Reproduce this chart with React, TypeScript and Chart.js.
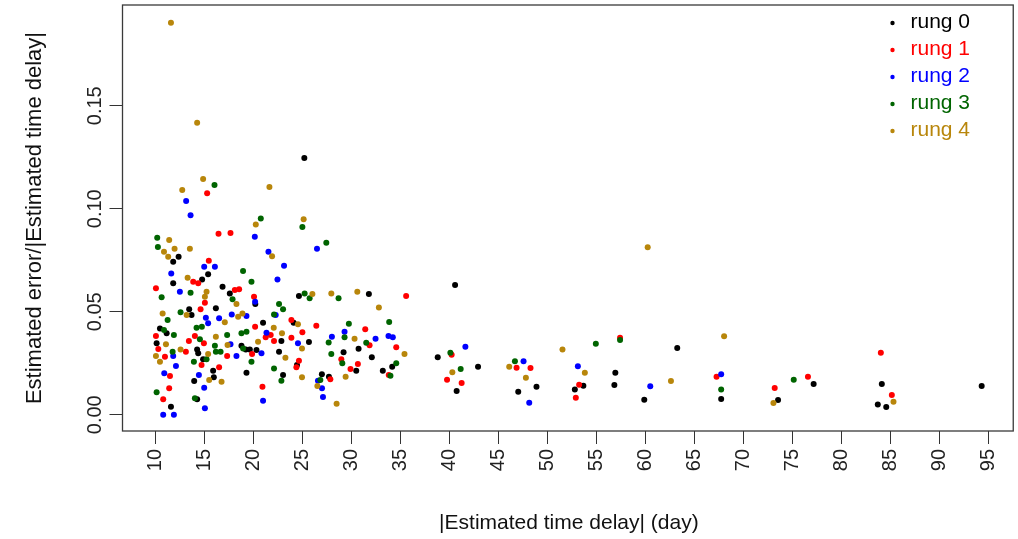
import React, { useEffect, useRef } from "react";
import { Chart, registerables } from "chart.js";

Chart.register(...registerables);

const seriesNames = ["rung 0", "rung 1", "rung 2", "rung 3", "rung 4"];
const seriesColors = ["#000000", "#FF0000", "#0000FF", "#006400", "#B8860B"];

const xTickValues = [10, 15, 20, 25, 30, 35, 40, 45, 50, 55, 60, 65, 70, 75, 80, 85, 90, 95];
const yTickValues = [0, 0.05, 0.1, 0.15];
const yTickLabels = ["0.00", "0.05", "0.10", "0.15"];

const xTitle = "|Estimated time delay| (day)";
const yTitle = "Estimated error/|Estimated time delay|";

// [ |estimated time delay| (day), estimated error / |estimated time delay| ]
const rung0 = [
  [25.2, 0.1246], [12.38, 0.0767], [11.83, 0.0743], [15.39, 0.0682], [14.78, 0.0657], [11.83, 0.0638],
  [16.86, 0.0621], [17.6, 0.0589], [20.2, 0.0537], [24.65, 0.0576], [16.18, 0.0517], [13.46, 0.0512],
  [13.7, 0.0484], [24.11, 0.0447], [20.99, 0.0447], [22.86, 0.0358], [10.48, 0.0419], [11.16, 0.0395],
  [10.14, 0.0347], [14.27, 0.0317], [14.38, 0.0298], [18.79, 0.0335], [19.23, 0.0317], [19.64, 0.0317],
  [20.32, 0.0314], [22.62, 0.0306], [14.88, 0.0269], [15.9, 0.0214], [13.97, 0.0164], [15.97, 0.0182],
  [19.3, 0.0204], [23.03, 0.0193], [14.27, 0.0075], [11.6, 0.0039], [31.78, 0.0586], [25.67, 0.0353],
  [30.73, 0.032], [29.2, 0.0303], [32.08, 0.0279], [24.45, 0.0241], [30.49, 0.0214], [33.2, 0.0214],
  [34.16, 0.0233], [26.99, 0.0196], [27.71, 0.0184], [40.57, 0.063], [38.8, 0.0279], [40.73, 0.0115],
  [42.91, 0.0233], [48.87, 0.0136], [47.01, 0.0112], [63.22, 0.0324], [56.91, 0.0204], [56.81, 0.0144],
  [53.65, 0.0141], [52.78, 0.0123], [59.86, 0.0073], [67.7, 0.0076], [73.5, 0.0071], [77.13, 0.0149],
  [84.08, 0.0149], [83.67, 0.005], [84.53, 0.0037], [94.26, 0.0139],
];

const rung1 = [
  [15.29, 0.1075], [16.45, 0.0879], [17.67, 0.0882], [15.46, 0.0748], [10.07, 0.0614], [13.87, 0.0646],
  [14.38, 0.0638], [18.11, 0.0605], [18.55, 0.0609], [20.07, 0.0573], [15.06, 0.0544], [14.62, 0.0512],
  [23.88, 0.046], [20.18, 0.0427], [21.77, 0.0387], [21.26, 0.0376], [22.11, 0.0358], [23.88, 0.0374],
  [10.07, 0.0382], [10.31, 0.0319], [13.12, 0.0306], [10.99, 0.0282], [14.04, 0.0382], [13.43, 0.0358],
  [14.96, 0.0347], [17.33, 0.0285], [19.87, 0.0295], [24.65, 0.0262], [24.39, 0.023], [14.72, 0.0241],
  [16.51, 0.023], [11.5, 0.0188], [11.42, 0.0128], [20.93, 0.0136], [10.81, 0.0075], [35.58, 0.0576],
  [26.42, 0.0432], [25.0, 0.04], [31.41, 0.0415], [31.85, 0.0337], [34.57, 0.0327], [28.97, 0.0269],
  [30.66, 0.0246], [29.91, 0.0222], [33.81, 0.0193], [27.85, 0.0172], [40.22, 0.0291], [39.75, 0.017],
  [41.24, 0.0154], [46.84, 0.0228], [48.26, 0.0227], [57.39, 0.0374], [53.22, 0.0146], [52.88, 0.0083],
  [67.23, 0.0184], [73.16, 0.013], [76.55, 0.0184], [83.98, 0.0301], [85.1, 0.0096],
];

const rung2 = [
  [13.15, 0.1037], [13.6, 0.0968], [20.15, 0.0864], [14.99, 0.0718], [16.08, 0.0718], [21.54, 0.0791],
  [23.13, 0.0723], [11.63, 0.0686], [22.46, 0.0657], [26.49, 0.0806], [12.51, 0.0597], [20.18, 0.0549],
  [15.16, 0.0471], [15.39, 0.0444], [16.51, 0.0468], [17.8, 0.0487], [19.3, 0.0479], [22.28, 0.0484],
  [21.34, 0.0398], [11.83, 0.0285], [12.11, 0.0236], [17.67, 0.0342], [18.28, 0.0285], [20.83, 0.0298],
  [10.92, 0.0201], [14.45, 0.0193], [14.99, 0.0131], [20.99, 0.0068], [15.06, 0.0031], [10.81, 0.0],
  [11.9, 0.0], [29.3, 0.0403], [28.01, 0.0379], [32.46, 0.0369], [33.78, 0.0382], [34.22, 0.0376],
  [24.55, 0.0347], [26.59, 0.0165], [27.0, 0.0128], [27.1, 0.0086], [41.62, 0.033], [47.55, 0.0259],
  [48.13, 0.0058], [53.09, 0.0235], [60.47, 0.0138], [67.7, 0.0196],
];

const rung3 = [
  [16.04, 0.1115], [20.76, 0.0953], [25.0, 0.0911], [10.2, 0.0859], [10.27, 0.0814], [18.95, 0.0698],
  [27.44, 0.0835], [19.81, 0.0646], [10.65, 0.057], [13.6, 0.0592], [17.88, 0.056], [22.62, 0.0537],
  [23.03, 0.0512], [12.58, 0.0497], [11.26, 0.046], [22.11, 0.0487], [10.89, 0.0411], [11.9, 0.0387],
  [14.21, 0.0422], [14.75, 0.0427], [14.55, 0.0366], [17.33, 0.0387], [16.08, 0.0335], [18.79, 0.0395],
  [19.3, 0.0403], [11.77, 0.0306], [16.18, 0.0306], [16.66, 0.0306], [18.96, 0.0322], [19.81, 0.0257],
  [15.23, 0.0269], [13.94, 0.0257], [22.11, 0.0225], [22.86, 0.0165], [10.14, 0.0109], [14.04, 0.008],
  [25.23, 0.0589], [25.74, 0.0565], [28.69, 0.0565], [29.74, 0.0442], [33.85, 0.045], [29.3, 0.0376],
  [27.68, 0.0351], [31.51, 0.035], [27.95, 0.0295], [29.07, 0.025], [34.57, 0.025], [33.98, 0.0189],
  [26.83, 0.0168], [40.09, 0.0301], [41.14, 0.0222], [46.67, 0.0259], [54.92, 0.0345], [57.39, 0.0363],
  [67.7, 0.0123], [75.1, 0.017],
];

const rung4 = [
  [11.6, 0.1903], [14.27, 0.1417], [14.88, 0.1144], [12.75, 0.1091], [21.64, 0.1105], [20.25, 0.0924],
  [25.13, 0.0949], [11.42, 0.0848], [10.89, 0.0791], [11.97, 0.0806], [13.53, 0.0806], [11.32, 0.0767],
  [21.91, 0.0769], [13.3, 0.0665], [15.23, 0.0597], [15.06, 0.0573], [18.28, 0.0537], [10.75, 0.0492],
  [13.2, 0.0484], [17.09, 0.0449], [18.45, 0.0476], [18.89, 0.0492], [22.08, 0.0422], [22.92, 0.0395],
  [11.09, 0.0342], [12.58, 0.0317], [10.07, 0.0285], [10.48, 0.0257], [16.18, 0.0379], [17.37, 0.0338],
  [15.39, 0.0295], [20.48, 0.0354], [23.27, 0.0277], [15.5, 0.0168], [16.76, 0.016], [26.02, 0.0586],
  [27.95, 0.0589], [30.6, 0.0597], [32.8, 0.0521], [24.55, 0.0439], [30.32, 0.0369], [24.96, 0.0322],
  [35.41, 0.0295], [24.96, 0.0182], [29.41, 0.0184], [26.53, 0.0139], [28.49, 0.0053], [60.21, 0.0813],
  [40.29, 0.0206], [46.09, 0.0233], [47.79, 0.018], [51.52, 0.0317], [53.8, 0.0204], [62.58, 0.0164],
  [68.0, 0.0381], [73.03, 0.0057], [85.27, 0.0063],
];

const seriesData = [rung0, rung1, rung2, rung3, rung4];

const FONT = '"Liberation Sans", Arial, Helvetica, sans-serif';

const decorPlugin = {
  id: "rDecor",
  afterDraw(chart: any) {
    const { ctx, chartArea, scales } = chart;
    const ys = scales.y;
    ctx.save();
    // frame
    ctx.strokeStyle = "#3a3a3a";
    ctx.lineWidth = 1.3;
    ctx.strokeRect(chartArea.left, chartArea.top, chartArea.right - chartArea.left, chartArea.bottom - chartArea.top);

    // y tick labels (rotated, parallel to the axis)
    ctx.fillStyle = "#222";
    ctx.font = `20px ${FONT}`;
    ctx.textAlign = "center";
    ctx.textBaseline = "middle";
    yTickValues.forEach((v, i) => {
      const py = ys.getPixelForValue(v);
      ctx.save();
      ctx.translate(95, py);
      ctx.rotate(-Math.PI / 2);
      ctx.fillText(yTickLabels[i], 0, 0);
      ctx.restore();
    });

    // axis titles
    ctx.fillStyle = "#111";
    ctx.font = `22px ${FONT}`;
    ctx.save();
    ctx.translate(35, (chartArea.top + chartArea.bottom) / 2);
    ctx.rotate(-Math.PI / 2);
    ctx.fillText(yTitle, 0, 0);
    ctx.restore();
    ctx.font = `21px ${FONT}`;
    ctx.fillText(xTitle, (chartArea.left + chartArea.right) / 2 + 1, 523);

    // legend
    ctx.textAlign = "left";
    ctx.font = `21px ${FONT}`;
    seriesNames.forEach((name, i) => {
      const cy = 22 + i * 27;
      ctx.fillStyle = seriesColors[i];
      ctx.beginPath();
      ctx.arc(892.5, cy + 1, 2.2, 0, Math.PI * 2);
      ctx.fill();
      ctx.fillText(name, 910.5, cy);
    });
    ctx.restore();
  },
};

export default function App() {
  const ref = useRef<HTMLCanvasElement | null>(null);

  useEffect(() => {
    if (!ref.current) return;
    const chart = new Chart(ref.current, {
      type: "scatter",
      data: {
        datasets: seriesData.map((pts, i) => ({
          label: seriesNames[i],
          data: pts.map(([x, y]) => ({ x, y })),
          backgroundColor: seriesColors[i],
          borderWidth: 0,
          pointRadius: 3,
          pointHoverRadius: 3,
          order: seriesNames.length - i,
        })),
      },
      options: {
        responsive: false,
        animation: false,
        devicePixelRatio: 1,
        layout: { padding: { top: 5, right: 3, left: 0, bottom: 0 } },
        plugins: { legend: { display: false }, tooltip: { enabled: false } },
        scales: {
          x: {
            type: "linear",
            min: 6.66,
            max: 97.48,
            afterBuildTicks: (s: any) => {
              s.ticks = xTickValues.map((v) => ({ value: v }));
            },
            afterFit: (s: any) => {
              s.height = 108;
            },
            grid: { drawOnChartArea: false, drawTicks: true, tickLength: 13, color: "#333", lineWidth: 1 },
            border: { display: false },
            ticks: {
              minRotation: 90,
              maxRotation: 90,
              padding: 5,
              color: "#222",
              font: { family: FONT, size: 20 },
              callback: (v: any) => String(v),
            },
          },
          y: {
            type: "linear",
            min: -0.0079,
            max: 0.1989,
            afterBuildTicks: (s: any) => {
              s.ticks = yTickValues.map((v) => ({ value: v }));
            },
            afterFit: (s: any) => {
              s.width = 122.5;
            },
            grid: { drawOnChartArea: false, drawTicks: true, tickLength: 13, color: "#333", lineWidth: 1 },
            border: { display: false },
            ticks: { display: false },
          },
        },
      },
      plugins: [decorPlugin],
    });
    return () => chart.destroy();
  }, []);

  return (
    <div style={{ position: "fixed", left: 0, top: 0, width: 1018, height: 539, background: "#fff" }}>
      <canvas ref={ref} width={1018} height={539} style={{ display: "block" }} />
    </div>
  );
}
